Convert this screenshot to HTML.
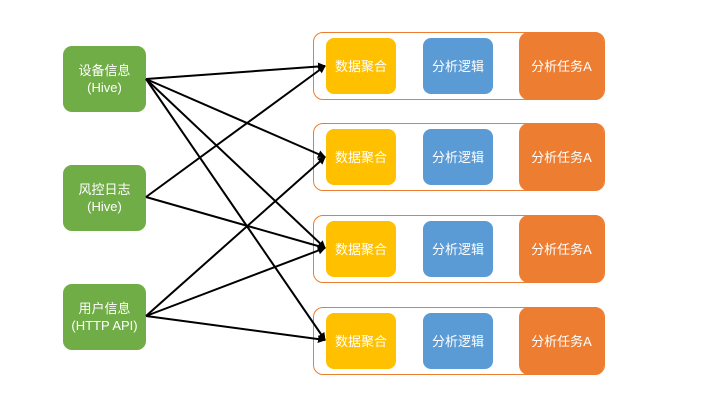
<!DOCTYPE html>
<html><head><meta charset="utf-8"><style>
body{margin:0;width:720px;height:405px;background:#fff;overflow:hidden;position:relative;font-family:"Liberation Sans","Noto Sans CJK SC",sans-serif;}
.b{position:absolute;color:#fff;font-size:13px;display:flex;align-items:center;justify-content:center;text-align:center;line-height:17px;}
.g{background:#70ad47;border-radius:9px;left:63px;width:83px;height:66px;}
.c{position:absolute;left:313px;width:290px;height:66px;border:1px solid #ed7d31;border-radius:10px;}
.y{background:#ffc000;border-radius:8px;left:326px;width:70px;height:56px;}
.bl{background:#5b9bd5;border-radius:8px;left:423px;width:70px;height:56px;}
.o{background:#ed7d31;border-radius:10px;left:519px;width:85px;height:68px;}
svg{position:absolute;left:0;top:0}
</style></head><body>
<div class="b g" style="top:46px">设备信息<br>(Hive)</div>
<div class="b g" style="top:165px">风控日志<br>(Hive)</div>
<div class="b g" style="top:284px">用户信息<br>(HTTP API)</div>

<div class="c" style="top:32px"></div>
<div class="c" style="top:123px"></div>
<div class="c" style="top:215px"></div>
<div class="c" style="top:307px"></div>

<div class="b y" style="top:38px">数据聚合</div>
<div class="b y" style="top:129px">数据聚合</div>
<div class="b y" style="top:221px">数据聚合</div>
<div class="b y" style="top:313px">数据聚合</div>
<div class="b bl" style="top:38px">分析逻辑</div>
<div class="b bl" style="top:129px">分析逻辑</div>
<div class="b bl" style="top:221px">分析逻辑</div>
<div class="b bl" style="top:313px">分析逻辑</div>
<div class="b o" style="top:32px">分析任务A</div>
<div class="b o" style="top:123px">分析任务A</div>
<div class="b o" style="top:215px">分析任务A</div>
<div class="b o" style="top:307px">分析任务A</div>

<svg width="720" height="405">
<defs><marker id="a" markerWidth="8" markerHeight="8" refX="7" refY="4" orient="auto" markerUnits="userSpaceOnUse"><path d="M0,0 L8,4 L0,8 z" fill="#000"/></marker></defs>
<g stroke="#000" stroke-width="2" marker-end="url(#a)">
<line x1="146" y1="79" x2="325" y2="66"/>
<line x1="146" y1="79" x2="325" y2="157"/>
<line x1="146" y1="79" x2="325" y2="248"/>
<line x1="146" y1="79" x2="325" y2="340"/>
<line x1="146" y1="197" x2="325" y2="66"/>
<line x1="146" y1="197" x2="325" y2="248"/>
<line x1="146" y1="316" x2="325" y2="157"/>
<line x1="146" y1="316" x2="325" y2="248"/>
<line x1="146" y1="316" x2="325" y2="340"/>
</g></svg>
</body></html>
